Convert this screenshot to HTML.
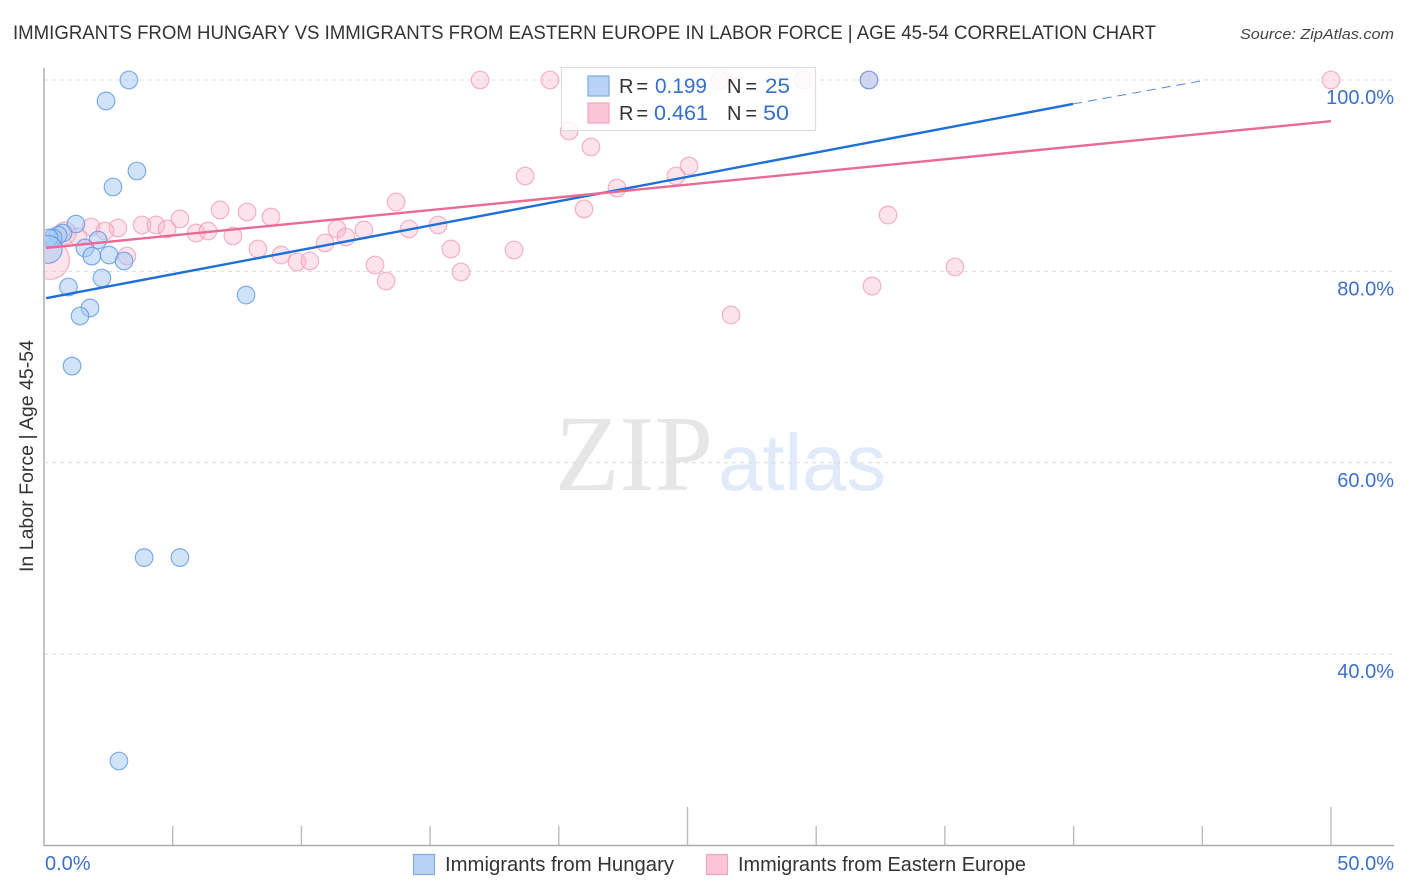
<!DOCTYPE html>
<html lang="en">
<head>
<meta charset="utf-8">
<title>Immigrants from Hungary vs Immigrants from Eastern Europe in Labor Force</title>
<style>
html,body{margin:0;padding:0;background:#fff;width:1406px;height:892px;overflow:hidden}
svg{display:block;font-family:"Liberation Sans",sans-serif}
</style>
</head>
<body>
<svg id="chart" xmlns="http://www.w3.org/2000/svg" width="1406" height="892" viewBox="0 0 1406 892">
  <defs><clipPath id="plot-clip"><rect x="45" y="60" width="1360" height="785"/></clipPath></defs>
  <rect x="0" y="0" width="1406" height="892" fill="#fff"/>
  <text x="13" y="39" font-size="19" fill="#333" textLength="1143" lengthAdjust="spacingAndGlyphs">IMMIGRANTS FROM HUNGARY VS IMMIGRANTS FROM EASTERN EUROPE IN LABOR FORCE | AGE 45-54 CORRELATION CHART</text>
  <text x="1394" y="39" font-size="15" font-style="italic" fill="#444" text-anchor="end" textLength="154" lengthAdjust="spacingAndGlyphs">Source: ZipAtlas.com</text>
  <g>
    <text x="555" y="490" font-family="'Liberation Serif',serif" font-size="108" fill="#e6e6e6" textLength="158" lengthAdjust="spacingAndGlyphs">ZIP</text>
    <text x="718" y="490" font-size="80" fill="#e0eaf9" textLength="168" lengthAdjust="spacingAndGlyphs">atlas</text>
  </g>
  <g id="grid"></g>
  <g id="points" clip-path="url(#plot-clip)"></g>
  <rect x="0" y="60" width="44" height="786" fill="#fff"/>
  <g id="trends"></g>
  <g id="axes">
    <line x1="44" y1="68" x2="44" y2="846" stroke="#aaa" stroke-width="1.4"/>
    <line x1="44" y1="845.5" x2="1394" y2="845.5" stroke="#aaa" stroke-width="1.4"/>
  </g>
  <g id="tick-labels"></g>
  <text transform="translate(33,456) rotate(-90)" font-size="19" fill="#333" text-anchor="middle" textLength="232" lengthAdjust="spacingAndGlyphs">In Labor Force | Age 45-54</text>
  <g>
    <rect x="561.5" y="67.5" width="254" height="63" fill="#fff" fill-opacity="0.82" stroke="#dcdcdc" stroke-width="1.2"/>
    <rect x="588" y="76" width="21" height="20" fill="#b8d3f6" stroke="#7fabe6" stroke-width="1.2"/>
    <text x="619" y="93" font-size="20" fill="#333" textLength="29" lengthAdjust="spacing">R =</text>
    <text x="655" y="93" font-size="21" fill="#3470cf" textLength="52" lengthAdjust="spacingAndGlyphs">0.199</text>
    <text x="727" y="93" font-size="20" fill="#333" textLength="30" lengthAdjust="spacing">N =</text>
    <text x="765" y="93" font-size="21" fill="#3470cf" textLength="25" lengthAdjust="spacingAndGlyphs">25</text>
    <rect x="588" y="103" width="21" height="20" fill="#fcc5d7" stroke="#f2a5bf" stroke-width="1.2"/>
    <text x="619" y="120" font-size="20" fill="#333" textLength="29" lengthAdjust="spacing">R =</text>
    <text x="654" y="120" font-size="21" fill="#3470cf" textLength="54" lengthAdjust="spacingAndGlyphs">0.461</text>
    <text x="727" y="120" font-size="20" fill="#333" textLength="30" lengthAdjust="spacing">N =</text>
    <text x="763" y="120" font-size="21" fill="#3470cf" textLength="26" lengthAdjust="spacingAndGlyphs">50</text>
  </g>
  <g>
    <rect x="413.5" y="854.5" width="21" height="20" fill="#b8d3f6" stroke="#7fabe6" stroke-width="1.2"/>
    <text x="445" y="871" font-size="20" fill="#333" textLength="229" lengthAdjust="spacingAndGlyphs">Immigrants from Hungary</text>
    <rect x="706.5" y="854.5" width="21" height="20" fill="#fcc5d7" stroke="#f2a5bf" stroke-width="1.2"/>
    <text x="738" y="871" font-size="20" fill="#333" textLength="288" lengthAdjust="spacingAndGlyphs">Immigrants from Eastern Europe</text>
  </g>
</svg>
<script>
const hungaryX = [3.30,2.41,3.61,2.68,1.24,0.74,0.55,0.35,0.20,0.16,2.10,1.59,1.86,2.53,3.11,2.25,0.95,1.79,1.40,7.85,1.09,3.89,5.28,2.91,32.05];
const hungaryY = [100,97.81,90.49,88.82,84.95,84.01,83.80,83.50,83.50,82.30,83.28,82.45,81.60,81.71,81.09,79.31,78.37,76.18,75.34,77.53,70.11,50.10,50.10,28.84,100];
const hungaryWeight = [1,1,1,1,1,1,1,1,1,2.5,1,1,1,1,1,1,1,1,1,1,1,1,1,1,1];
const europeX = [16.94,19.66,26.26,29.49,32.05,50,20.40,21.25,18.69,25.06,24.55,22.26,20.98,13.68,32.79,6.84,7.89,8.82,5.28,3.81,4.35,4.78,2.87,1.83,2.37,5.91,6.37,7.34,11.38,12.43,14.18,15.31,11.73,10.92,8.31,9.21,9.83,10.33,15.81,18.26,12.86,16.20,13.29,3.22,35.39,32.17,26.69,0.82,1.32,0.23];
const europeY = [100,100,100,100,100,100,94.67,93.00,89.97,91.01,89.97,88.71,86.52,87.25,85.89,86.42,86.21,85.68,85.48,84.85,84.85,84.43,84.53,84.64,84.22,84.01,84.22,83.70,84.43,84.33,84.43,84.85,83.59,82.97,82.34,81.71,80.98,81.09,82.34,82.24,80.67,79.94,79.00,81.61,80.46,78.47,75.44,84.01,83.60,81.20];
const europeWeight = [1,1,1,1,1,1,1,1,1,1,1,1,1,1,1,1,1,1,1,1,1,1,1,1,1,1,1,1,1,1,1,1,1,1,1,1,1,1,1,1,1,1,1,1,1,1,1,1.6,1,4.9];
const yTickValues = [100,80,60,40];
const yTickLabels = ["100.0%","80.0%","60.0%","40.0%"];
const xTickValues = [0,5,10,15,20,25,30,35,40,45,50];
const xMajorTicks = [25,50];
const xEndLabels = ["0.0%","50.0%"];
const hungaryTrendX = [0.08,39.98];
const hungaryTrendY = [77.2,97.5];
const hungaryDashX = [39.98,45.15];
const hungaryDashY = [97.5,100];
const europeTrendX = [0.08,50];
const europeTrendY = [82.45,95.7];

const NS = 'http://www.w3.org/2000/svg';
const xPos = v => 44 + v * 25.74;
const yPos = v => 80 + (100 - v) * 9.57;
const make = (tag, attrs, parent) => {
  const el = document.createElementNS(NS, tag);
  Object.keys(attrs).forEach(k => el.setAttribute(k, attrs[k]));
  parent.appendChild(el);
  return el;
};
const gridG = document.getElementById('grid');
const axesG = document.getElementById('axes');
const pointsG = document.getElementById('points');
const trendsG = document.getElementById('trends');
const labelsG = document.getElementById('tick-labels');

yTickValues.forEach((v, i) => {
  const line = make('line', {x1:44, x2:1394, y1:yPos(v), y2:yPos(v), stroke:'#dcdcdc', 'stroke-width':1, 'stroke-dasharray':'4 4'}, gridG);
  
  
  const label = make('text', {x:1394, y:yPos(v) + 24, 'font-size':20, fill:'#3d70d0', 'text-anchor':'end'}, labelsG);
  label.textContent = yTickLabels[i];
  
  
});

xTickValues.forEach(v => {
  if (v === 0) return;
  const top = xMajorTicks.includes(v) ? 807 : 826;
  const tick = make('line', {x1:xPos(v), x2:xPos(v), y1:top, y2:845, stroke:'#bbb', 'stroke-width':1.4}, axesG);
  
  
});

const startLabel = make('text', {x:45, y:870, 'font-size':20, fill:'#3d70d0'}, labelsG);
startLabel.textContent = xEndLabels[0];


const endLabel = make('text', {x:1394, y:870, 'font-size':20, fill:'#3d70d0', 'text-anchor':'end'}, labelsG);
endLabel.textContent = xEndLabels[1];



europeX.forEach((x, i) => {
  const c = make('circle', {cx:xPos(x), cy:yPos(europeY[i]), r:8.8 * Math.sqrt(europeWeight[i]), fill:'#fbb6cc', 'fill-opacity':0.38, stroke:'#f09ab8', 'stroke-opacity':0.75, 'stroke-width':1.2}, pointsG);
  
  
});
hungaryX.forEach((x, i) => {
  const c = make('circle', {cx:xPos(x), cy:yPos(hungaryY[i]), r:8.8 * Math.sqrt(hungaryWeight[i]), fill:'#a3c8f3', 'fill-opacity':0.5, stroke:'#5a94e2', 'stroke-opacity':0.75, 'stroke-width':1.2}, pointsG);
  
  
});

const hungaryLine = make('line', {x1:xPos(hungaryTrendX[0]), y1:yPos(hungaryTrendY[0]), x2:xPos(hungaryTrendX[1]), y2:yPos(hungaryTrendY[1]), stroke:'#1f6fd8', 'stroke-width':2.4}, trendsG);


const hungaryDash = make('line', {x1:xPos(hungaryDashX[0]), y1:yPos(hungaryDashY[0]), x2:xPos(hungaryDashX[1]), y2:yPos(hungaryDashY[1]), stroke:'#4f8ae0', 'stroke-width':1, 'stroke-dasharray':'9 6'}, trendsG);


const europeLine = make('line', {x1:xPos(europeTrendX[0]), y1:yPos(europeTrendY[0]), x2:xPos(europeTrendX[1]), y2:yPos(europeTrendY[1]), stroke:'#ea6a96', 'stroke-width':2.4}, trendsG);


</script>
</body>
</html>
